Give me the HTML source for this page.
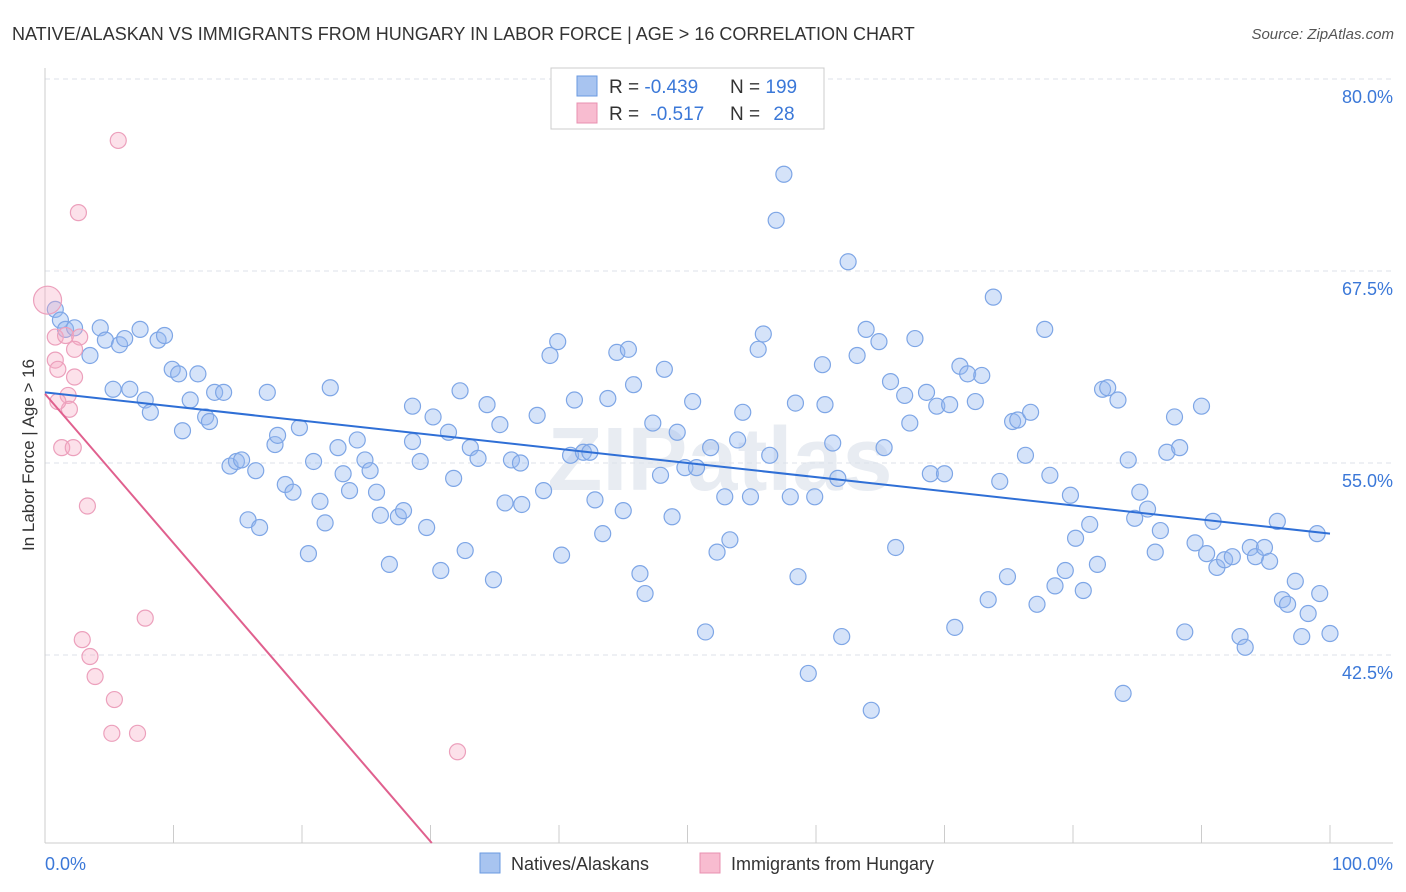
<!DOCTYPE html>
<html><head><meta charset="utf-8">
<style>
body{margin:0;background:#fff;font-family:"Liberation Sans",sans-serif;}
svg{display:block}
</style></head>
<body>
<svg id="chart" width="1406" height="892" xmlns="http://www.w3.org/2000/svg">
<text x="12" y="40" font-size="18" fill="#333">NATIVE/ALASKAN VS IMMIGRANTS FROM HUNGARY IN LABOR FORCE | AGE &gt; 16 CORRELATION CHART</text>
<text x="1394" y="39" font-size="15" fill="#555" text-anchor="end" font-style="italic">Source: ZipAtlas.com</text>
<text x="720" y="490" font-size="90" fill="#e8ecf2" text-anchor="middle" font-weight="bold">ZIPatlas</text>
<g id="grid"></g>
<g id="axes"></g>
<g id="pts"></g>
<g id="trend"></g>
<text transform="translate(34,455) rotate(-90)" font-size="17" fill="#333" text-anchor="middle">In Labor Force | Age &gt; 16</text>
<text x="45" y="870" font-size="18" fill="#3b78d8">0.0%</text>
<text x="1393" y="870" font-size="18" fill="#3b78d8" text-anchor="end">100.0%</text>
<g>
<rect x="551" y="68" width="273" height="61" fill="#fff" stroke="#ccc"/>
<rect x="577" y="76" width="20" height="20" fill="#a8c4f0" stroke="#6a9ae0"/>
<rect x="577" y="103" width="20" height="20" fill="#f8bcd0" stroke="#e890b0"/>
<text x="609" y="93" font-size="19" fill="#333">R = <tspan fill="#3b78d8">-0.439</tspan></text>
<text x="730" y="93" font-size="19" fill="#333">N = <tspan fill="#3b78d8">199</tspan></text>
<text x="609" y="120" font-size="19" fill="#333">R = <tspan fill="#3b78d8" dx="6">-0.517</tspan></text>
<text x="730" y="120" font-size="19" fill="#333">N = <tspan fill="#3b78d8" dx="8">28</tspan></text>
</g>
<g>
<rect x="480" y="853" width="20" height="20" fill="#a8c4f0" stroke="#6a9ae0"/>
<text x="511" y="870" font-size="18" fill="#333">Natives/Alaskans</text>
<rect x="700" y="853" width="20" height="20" fill="#f8bcd0" stroke="#e890b0"/>
<text x="731" y="870" font-size="18" fill="#333">Immigrants from Hungary</text>
</g>
</svg>
<script>
const yTicks=[80,67.5,55,42.5];
const xTicks=[0,10,20,30,40,50,60,70,80,90,100];
const blue=[[0.8,65.0],[1.2,64.3],[1.6,63.7],[2.3,63.8],[3.5,62.0],[4.3,63.8],[4.7,63.0],[5.8,62.7],[6.2,63.1],[7.4,63.7],[5.3,59.8],[6.6,59.8],[7.8,59.1],[8.2,58.3],[8.8,63.0],[9.3,63.3],[9.9,61.1],[10.4,60.8],[10.7,57.1],[11.3,59.1],[11.9,60.8],[12.5,58.0],[12.8,57.7],[13.2,59.6],[13.9,59.6],[14.4,54.8],[14.9,55.1],[15.3,55.2],[15.8,51.3],[16.4,54.5],[16.7,50.8],[17.3,59.6],[17.9,56.2],[18.1,56.8],[18.7,53.6],[19.3,53.1],[19.8,57.3],[20.5,49.1],[20.9,55.1],[21.4,52.5],[21.8,51.1],[22.2,59.9],[22.8,56.0],[23.2,54.3],[23.7,53.2],[24.3,56.5],[24.9,55.2],[25.3,54.5],[25.8,53.1],[26.1,51.6],[26.8,48.4],[27.5,51.5],[27.9,51.9],[28.6,58.7],[28.6,56.4],[29.2,55.1],[29.7,50.8],[30.2,58.0],[30.8,48.0],[31.4,57.0],[31.8,54.0],[32.3,59.7],[32.7,49.3],[33.1,56.0],[33.7,55.3],[34.4,58.8],[34.9,47.4],[35.4,57.5],[35.8,52.4],[36.3,55.2],[37.0,55.0],[37.1,52.3],[38.3,58.1],[38.8,53.2],[39.3,62.0],[39.9,62.9],[40.2,49.0],[40.9,55.5],[41.2,59.1],[41.9,55.7],[42.4,55.7],[42.8,52.6],[43.4,50.4],[43.8,59.2],[44.5,62.2],[45.0,51.9],[45.4,62.4],[45.8,60.1],[46.3,47.8],[46.7,46.5],[47.3,57.6],[47.9,54.2],[48.2,61.1],[48.8,51.5],[49.2,57.0],[49.8,54.7],[50.4,59.0],[50.7,54.7],[51.4,44.0],[51.8,56.0],[52.3,49.2],[52.9,52.8],[53.3,50.0],[53.9,56.5],[54.3,58.3],[54.9,52.8],[55.5,62.4],[55.9,63.4],[56.4,55.5],[56.9,70.8],[57.5,73.8],[58.0,52.8],[58.4,58.9],[58.6,47.6],[59.4,41.3],[59.9,52.8],[60.5,61.4],[60.7,58.8],[61.3,56.3],[61.7,54.0],[62.0,43.7],[62.5,68.1],[63.2,62.0],[63.9,63.7],[64.3,38.9],[64.9,62.9],[65.3,56.0],[65.8,60.3],[66.2,49.5],[66.9,59.4],[67.3,57.6],[67.7,63.1],[68.6,59.6],[68.9,54.3],[69.4,58.7],[70.0,54.3],[70.4,58.8],[70.8,44.3],[71.2,61.3],[71.8,60.8],[72.4,59.0],[72.9,60.7],[73.4,46.1],[73.8,65.8],[74.3,53.8],[74.9,47.6],[75.3,57.7],[75.7,57.8],[76.3,55.5],[76.7,58.3],[77.2,45.8],[77.8,63.7],[78.2,54.2],[78.6,47.0],[79.4,48.0],[79.8,52.9],[80.2,50.1],[80.8,46.7],[81.3,51.0],[81.9,48.4],[82.3,59.8],[82.7,59.9],[83.5,59.1],[83.9,40.0],[84.3,55.2],[84.8,51.4],[85.2,53.1],[85.8,52.0],[86.4,49.2],[86.8,50.6],[87.3,55.7],[87.9,58.0],[88.3,56.0],[88.7,44.0],[89.5,49.8],[90.0,58.7],[90.4,49.1],[90.9,51.2],[91.2,48.2],[91.8,48.7],[92.4,48.9],[93.0,43.7],[93.4,43.0],[93.8,49.5],[94.2,48.9],[94.9,49.5],[95.3,48.6],[95.9,51.2],[96.3,46.1],[96.7,45.8],[97.3,47.3],[97.8,43.7],[98.3,45.2],[99.0,50.4],[99.2,46.5],[100.0,43.9]];
const pink=[[5.7,76.0],[2.6,71.3],[0.2,65.6],[0.8,63.2],[1.6,63.3],[2.7,63.2],[2.3,62.4],[0.8,61.7],[1.0,61.1],[2.3,60.6],[1.8,59.4],[1.9,58.5],[1.0,59.0],[1.3,56.0],[2.2,56.0],[3.3,52.2],[7.8,44.9],[2.9,43.5],[3.5,42.4],[3.9,41.1],[5.4,39.6],[5.2,37.4],[7.2,37.4],[32.1,36.2]];
const blueTrend=[[0,59.6],[100,50.4]];
const pinkTrend=[[0,59.5],[30.1,30.26]];

const NS="http://www.w3.org/2000/svg";
const X=v=>45+v*12.85;
const Y=v=>79+(80-v)*15.36;
function mk(tag,attrs,parent){const e=document.createElementNS(NS,tag);for(const k in attrs)e.setAttribute(k,attrs[k]);parent.appendChild(e);return e;}
const grid=document.getElementById('grid'),axes=document.getElementById('axes'),pts=document.getElementById('pts'),trend=document.getElementById('trend');
yTicks.forEach(t=>{
  const l=mk('line',{x1:45,x2:1393,y1:Y(t),y2:Y(t),stroke:'#dde2ea','stroke-dasharray':'5,4'},grid);
  
  
  const tx=mk('text',{x:1393,y:Y(t)+24,'font-size':18,fill:'#3b78d8','text-anchor':'end'},grid);
  tx.textContent=t.toFixed(1)+'%';
  
  
});
const yb=Y(30.26);
let a=mk('line',{x1:45,x2:45,y1:68,y2:yb,stroke:'#ccc'},axes);


a=mk('line',{x1:45,x2:1393,y1:yb,y2:yb,stroke:'#ccc'},axes);


xTicks.forEach(t=>{
  const l=mk('line',{x1:X(t),x2:X(t),y1:yb-18,y2:yb,stroke:'#ccc'},axes);
  
  
});
blue.forEach(p=>{
  const c=mk('circle',{cx:X(p[0]),cy:Y(p[1]),r:8,fill:'rgba(150,185,240,0.4)',stroke:'#7ea6e6','stroke-width':1.2},pts);
  
  
});
pink.forEach((p,i)=>{
  const c=mk('circle',{cx:X(p[0]),cy:Y(p[1]),r:i==2?14:8,fill:'rgba(245,170,195,0.35)',stroke:'#eca0bc','stroke-width':1.2},pts);
  
  
});
let t=mk('line',{x1:X(blueTrend[0][0]),y1:Y(blueTrend[0][1]),x2:X(blueTrend[1][0]),y2:Y(blueTrend[1][1]),stroke:'#2f6fd6','stroke-width':2},trend);


t=mk('line',{x1:X(pinkTrend[0][0]),y1:Y(pinkTrend[0][1]),x2:X(pinkTrend[1][0]),y2:Y(pinkTrend[1][1]),stroke:'#e0608e','stroke-width':2},trend);


</script>
</body></html>
